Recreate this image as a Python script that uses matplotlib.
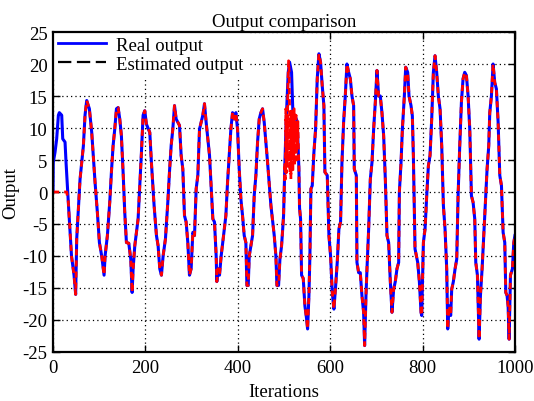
import numpy as np
import matplotlib
matplotlib.use("Agg")
import matplotlib.pyplot as plt
from matplotlib.lines import Line2D

plt.rcParams['font.family'] = ['Liberation Serif', 'DejaVu Serif']
plt.rcParams['axes.unicode_minus'] = False

# start of the run: real output rises while the estimate sits at zero
real_head_it = [0, 0.5, 4.3, 7.9, 11.6, 13.7, 18.8, 21, 26, 28.2]
real_head = [0, 4.6, 6.2, 8.3, 12, 12.4, 12, 8.3, 7.8, 4.6]
est_head_it = [0, 29.6]
est_head = [0, 0]

# shared key points (real and estimated overlap)
iters = [33, 40, 45.5, 49, 51.3, 58.5, 62.1, 65.7, 69.3, 72.9, 78.7, 83.8, 91, 96, 100.4,
         105.4, 110.5, 112.7, 117.7, 122.8, 126.4, 130, 133.6, 137.3, 140.9, 144.5, 148,
         151.7, 155.3, 158.9, 164, 168.3, 171.2, 173.4, 177, 184.2, 187.8, 191.4, 195,
         198.6, 202.2, 209.5, 213, 218.8, 223.9, 227.5, 231.1, 234.7, 238.3, 243.4, 248.5,
         252.1, 255.7, 259.3, 263, 266.6, 273.8, 277.4, 281, 284.6, 288.2, 291.8, 295.4,
         299, 302.7, 306.3, 309.9, 313.5, 317.1, 324.3, 327.9, 331.5, 338.8, 346, 349.6,
         353.2, 354.6, 356.8, 360.4, 364, 369.1, 374.2, 377.8, 381.4, 385, 388.6, 392.3,
         395.9, 399.5, 403.1, 406.7, 410.3, 413.9, 417.5, 419.7, 422.6, 424.8, 428.4, 432,
         435.6, 439.2, 442.8, 446.4, 450, 453.6, 457.2, 464.5, 471.7, 478.9, 482.5, 484.7,
         488.3, 491.2, 494.8, 499.1, 502, 504.9, 509.2, 512.1, 516.4, 519.3, 525.1, 528.7,
         532.3, 533.7, 535.9, 538.1, 541.7, 545.3, 548.9, 551.1, 554, 556.1, 558.3, 561.2,
         564.8, 568.4, 572, 575.6, 579.2, 582.8, 586.4, 588.6, 593.7, 597.3, 600.9, 604.5,
         608.1, 611.7, 615.3, 618.9, 622.5, 625.5, 629.1, 632.7, 636.3, 640, 643.6, 647.2,
         650.8, 652.2, 656.6, 658, 661.6, 665.2, 668.8, 672.4, 674.6, 677.5, 679.7, 683.3,
         686.9, 690.5, 694.1, 697.7, 701.3, 704.9, 708.5, 712.1, 715.8, 719.4, 723, 726.6,
         730.2, 733.8, 737.4, 741, 744.6, 748.3, 749.8, 753.4, 756.3, 760.6, 763.5, 767.8,
         770.7, 775, 777.9, 780.1, 782.3, 783.7, 789.5, 793.1, 796.7, 798.2, 801.8, 805.4,
         809, 812.6, 816.2, 819.8, 823.4, 827, 830.6, 834.2, 837.9, 841.5, 845.1, 848.7,
         852.3, 854.5, 857.3, 860.9, 863.1, 866.7, 870.4, 874, 876.9, 880.5, 884.1, 887.7,
         891.3, 895, 898.6, 902.2, 905.8, 909.4, 913, 915.2, 918.8, 922.4, 925.3, 928.9,
         932.5, 936.8, 939.7, 943.3, 945.5, 949.1, 952.7, 956.3, 959.9, 963.6, 967.2, 970.8,
         974.4, 978, 980.2, 983, 985.2, 987.4, 990.3, 994.6, 997.5, 1000]
real_vals = [-1.5, -10, -13, -16, -7.3, 2, 4.6, 7.2, 12, 14.3, 13, 9.3, 1.5, -3.2, -7.9,
             -10, -13, -10, -6.8, -1.6, 3.1, 7.2, 9.8, 13, 13.2, 11.4, 8.8,
             3.1, -3.2, -7.9, -8, -10.5, -15.7, -12, -8.4, -4.2, 1, 6.2, 12,
             12.7, 10.6, 9.3, 4.6, -2.1, -6.8, -8.4, -12, -13, -10, -7.3, -1.6,
             3.1, 7.2, 9.8, 13.5, 11.4, 10.4, 5.7, 3.6, -3.7, -4.7, -7.9, -13,
             -12, -6.3, -6.8, 0.5, 2.6, 9.8, 12, 13.8, 10.9, 5.7, -4.2, -4.7,
             -10, -14, -12, -13, -10, -6.8, -3.7, 1.5, 5.7, 9.8, 12.4, 11.4,
             12.4, 9.8, 3.6, -1.1, -3.7, -6.8, -7.9, -14.6, -14.6, -10, -8.4, -6.8,
             -0.5, 2.6, 7.8, 11.4, 12.4, 13, 10.9, 4.6, -2.1, -6.8, -10, -14.6,
             -14.6, -10.5, -8.4, -3.7, 4.6, 11.4, 18.7, 20.3, 18.7, 12.4, 11.7, 11,
             3.6, -2.5, -4.2, -13, -13.5, -17.8, -19.8, -21.4, -16.2, -10, 0.5, 1,
             6.2, 9.8, 17.7, 21.6, 20.3, 16.6, 13.5, 3.1, 2.6, -6.8, -10, -15.7,
             -18.3, -14.8, -11, -5.8, -4.7, 4.6, 10.9, 15, 20, 18.7, 17.7, 15,
             13.5, 3.6, 2.6, -11, -12.6, -12.6, -16.2, -18.8, -24, -16.2, -12, -5.8,
             2, 4.6, 9.8, 14, 19, 15, 15, 12.4, 8.8, 2, -6.8, -7.9,
             -14, -18.8, -15.2, -14, -12, -11, 0, 4.6, 9.8, 15, 19.5, 18.7,
             15, 13.5, 11.9, 5.7, -3.7, -8.9, -11, -14, -18.8, -19.3, -7.9, -5.8,
             -0.6, 4.1, 5.7, 11.4, 18.7, 21.3, 18.7, 15, 13, 7.2, -2.1, -5.8,
             -12, -21.4, -17.8, -19.3, -15.2, -14, -12, -10.5, -0.6, 7.2, 14, 17.7,
             18.7, 18.2, 15, 9.8, -0.6, -1.6, -4.2, -11, -13, -23, -16.2, -12,
             -6.8, -0.6, 3.6, 7.2, 12.4, 15, 20, 17.1, 16.1, 10.9, 2.6, 1,
             -6.3, -7.9, -15.7, -16.2, -17.8, -23, -13, -12, -7.9, -6.8]

# estimator chatter around iteration 500-530
osc_it = list(range(503, 531))
osc_est = [2, 13, 3, 12, 4, 14, 18, 20.5, 19, 13, 3, 12, 2, 13,
           4, 11, 3, 12, 5, 13, 4, 11, 6, 12, 5, 10, 7, 11]

it = np.array(iters)
rv = np.array(real_vals)
real_x = np.concatenate([real_head_it, it])
real_y = np.concatenate([real_head, rv])
before = it < osc_it[0]
after = it > osc_it[-1]
est_x = np.concatenate([est_head_it, it[before], osc_it, it[after]])
est_y = np.concatenate([est_head, rv[before], osc_est, rv[after]])

fs = 13.5
fig = plt.figure(figsize=(5.34, 4.02), dpi=100)
ax = fig.add_axes([0.0993, 0.1219, 0.865, 0.796])

ax.plot(real_x, real_y, color='blue', lw=2.2)
ax.plot(est_x, est_y, color='red', lw=2, dashes=(2.2, 1.8))

ax.set_xlim(0, 1000)
ax.set_ylim(-25, 25)
ax.set_xticks(np.arange(0, 1001, 200))
ax.set_yticks(np.arange(-25, 26, 5))
ax.grid(True, color='black', linestyle=(0, (1, 2.5)), linewidth=0.9)
ax.tick_params(direction='in', length=5, width=1, labelsize=fs,
               top=True, right=True)
ax.tick_params(axis='x', pad=5)
ax.tick_params(axis='y', pad=4)
for s in ax.spines.values():
    s.set_linewidth(1.6)
    s.set_zorder(6)

ax.set_title('Output comparison', fontsize=fs, pad=4)
ax.set_xlabel('Iterations', fontsize=fs, labelpad=5)
ax.set_ylabel('Output', fontsize=fs, labelpad=2)

handles = [Line2D([], [], color='blue', lw=2),
           Line2D([], [], color='black', lw=1.6, dashes=(6, 2.5))]
leg = ax.legend(handles, ['Real output', 'Estimated output'], loc='upper left',
                bbox_to_anchor=(0, 1), borderaxespad=0, fontsize=fs,
                handlelength=2.6, handletextpad=0.5, borderpad=0.25,
                labelspacing=0.1, fancybox=False, framealpha=1)
leg.get_frame().set_edgecolor('none')

fig.savefig('out.png', dpi=100)
